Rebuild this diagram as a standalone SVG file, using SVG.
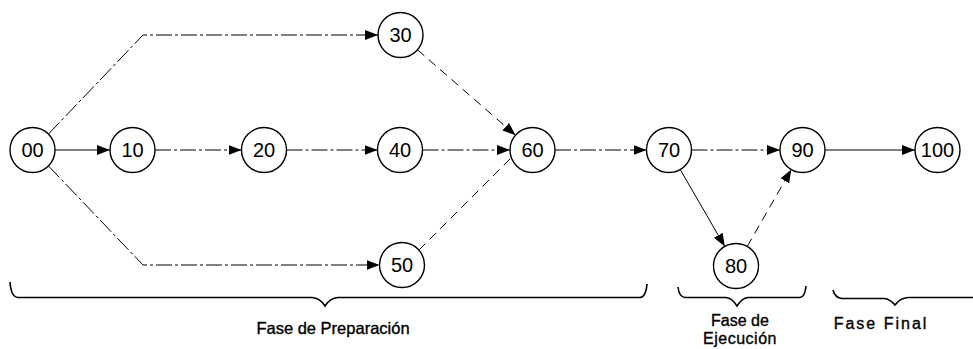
<svg xmlns="http://www.w3.org/2000/svg" width="973" height="349" viewBox="0 0 973 349">
<style>
.node circle{fill:#fff;stroke:#000;stroke-width:1.4}
.node text{font-family:"Liberation Sans",Arial,sans-serif;font-size:20px;text-anchor:middle;fill:#000}
.c{fill:none;stroke:#000;stroke-width:1}
.dd{stroke-dasharray:16 3 3 3}
.ds{stroke-dasharray:9 6}
.brace{fill:none;stroke:#000;stroke-width:1.6}
.lbl{font-family:"Liberation Sans",Arial,sans-serif;font-size:16px;text-anchor:middle;fill:#000;stroke:#000;stroke-width:0.35}
</style>
<defs>
<marker id="ah" markerUnits="userSpaceOnUse" markerWidth="14" markerHeight="10" refX="13" refY="5" orient="auto">
<path d="M0,0 L13,5 L0,10 z" fill="#000"/>
</marker>
</defs>
<g id="connectors">
<path class="c" d="M55,150 H110" marker-end="url(#ah)"/>
<path class="c dd" d="M155,150 H241.5" marker-end="url(#ah)"/>
<path class="c dd" d="M286.5,150 H377.5" marker-end="url(#ah)"/>
<path class="c dd" d="M48.4,134.1 L143,35 H378" marker-end="url(#ah)"/>
<path class="c dd" d="M48.4,165.9 L143,265 H379.5" marker-end="url(#ah)"/>
<path class="c ds" d="M417.5,49.8 L515.5,135.2" marker-end="url(#ah)"/>
<path class="c dd" d="M422.5,150 H510" marker-end="url(#ah)"/>
<path class="c ds" d="M418.9,250.1 L512,157"/>
<path class="c dd" d="M555,150 H646.5" marker-end="url(#ah)"/>
<path class="c dd" d="M691.5,150 H780" marker-end="url(#ah)"/>
<path class="c" d="M680.2,169.5 L724.8,246.5" marker-end="url(#ah)"/>
<path class="c ds" d="M747.2,246.5 L791.3,169.5" marker-end="url(#ah)"/>
<path class="c" d="M825,150 H915" marker-end="url(#ah)"/>
</g>
<g id="n00" class="node"><circle cx="32.5" cy="150" r="22.5"/><text x="32.5" y="157">00</text></g>
<g id="n10" class="node"><circle cx="132.5" cy="150" r="22.5"/><text x="132.5" y="157">10</text></g>
<g id="n20" class="node"><circle cx="264" cy="150" r="22.5"/><text x="264" y="157">20</text></g>
<g id="n30" class="node"><circle cx="400.5" cy="35" r="22.5"/><text x="400.5" y="42">30</text></g>
<g id="n40" class="node"><circle cx="400" cy="150" r="22.5"/><text x="400" y="157">40</text></g>
<g id="n50" class="node"><circle cx="402" cy="265" r="22.5"/><text x="402" y="272">50</text></g>
<g id="n60" class="node"><circle cx="532.5" cy="150" r="22.5"/><text x="532.5" y="157">60</text></g>
<g id="n70" class="node"><circle cx="669" cy="150" r="22.5"/><text x="669" y="157">70</text></g>
<g id="n80" class="node"><circle cx="736" cy="266" r="22.5"/><text x="736" y="273">80</text></g>
<g id="n90" class="node"><circle cx="802.5" cy="150" r="22.5"/><text x="802.5" y="157">90</text></g>
<g id="n100" class="node"><circle cx="937.5" cy="150" r="22.5"/><text x="937.5" y="157">100</text></g>
<g id="phases">
<path class="brace" d="M10,282 Q11,297 18,297.5 H312 Q320,298 325,306 Q330,298 338,297.5 H640 Q646,297 647,284"/>
<text class="lbl" x="333" y="334" style="font-size:16.5px">Fase de Preparación</text>
<path class="brace" d="M678,287 Q679,297 685,297.5 H726 Q732,298 737,306 Q742,298 748,297.5 H800 Q805,297 806,286"/>
<text class="lbl" x="740" y="326">Fase de</text>
<text class="lbl" x="740" y="344" style="letter-spacing:0.5px">Ejecución</text>
<path class="brace" d="M833,290 Q835,298 842,298.5 H884 Q890,299 895,305 Q900,298 908,297.5 H973"/>
<text class="lbl" x="881" y="329" style="letter-spacing:2px">Fase Final</text>
</g>
</svg>
